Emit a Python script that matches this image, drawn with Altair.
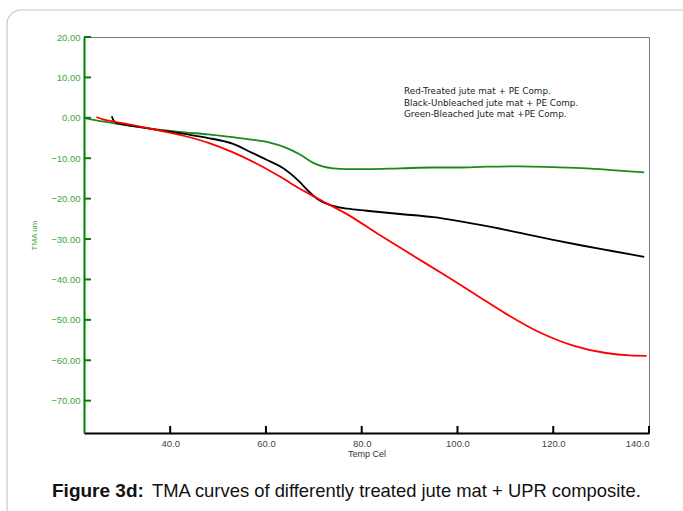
import altair as alt
import pandas as pd

# ---- data ----
green_t = [22, 24, 28, 33, 38, 43, 48, 53, 57, 61, 64, 67, 70, 72, 74, 77, 81, 88, 95, 100, 106, 113, 120, 127, 133, 139]
green_v = [0, -0.5, -1.3, -2.2, -3.0, -3.6, -4.1, -4.8, -5.4, -6.2, -7.3, -9.0, -11.2, -12.1, -12.5, -12.7, -12.7,
           -12.5, -12.3, -12.3, -12.1, -12.0, -12.2, -12.5, -13.0, -13.5]

black_t = [27.8, 28.1, 28.6, 30, 33, 38, 43, 48, 53, 57, 60, 64, 67, 69, 71, 74, 77, 81, 88, 95, 100, 107, 114,
           120, 126, 132, 139]
black_v = [0.4, -0.5, -1.2, -1.6, -2.2, -3.1, -4.0, -5.0, -6.4, -8.6, -10.3, -12.8, -15.8, -18.3, -20.3, -21.8,
           -22.5, -23.0, -23.8, -24.6, -25.5, -27.0, -28.7, -30.2, -31.6, -32.9, -34.4]

red_t = [24.6, 26, 29, 33, 38, 43, 48, 53, 58, 63, 67, 71, 77, 84, 91, 98, 104, 110, 117, 124, 131, 136, 139.5]
red_v = [0.2, -0.4, -1.1, -2.0, -3.2, -4.5, -6.2, -8.5, -11.3, -14.6, -17.5, -20.1, -23.9, -29.2, -34.3, -39.4,
         -43.9, -48.4, -53.0, -56.3, -58.2, -58.8, -58.9]

x_ticks = [40, 60, 80, 100, 120, 140]
y_ticks = [20, 10, 0, -10, -20, -30, -40, -50, -60, -70]

legend_lines = ["Red-Treated jute mat + PE Comp.",
                "Black-Unbleached jute mat + PE Comp.",
                "Green-Bleached Jute mat +PE Comp."]
caption_bold = "Figure 3d:"
caption_text = "TMA curves of differently treated jute mat + UPR composite."

W, H = 565, 396
AX_GREEN = "#008000"
LBL_GREEN = "#3fa53f"

rows = []
for name, ts, vs in [("green", green_t, green_v), ("black", black_t, black_v), ("red", red_t, red_v)]:
    for i, (t, v) in enumerate(zip(ts, vs)):
        rows.append({"series": name, "t": t, "v": v, "i": i})
df = pd.DataFrame(rows)

xscale = alt.Scale(domain=[22, 140], nice=False, zero=False)
yscale = alt.Scale(domain=[-78, 20], nice=False, zero=False)

xaxis = alt.Axis(values=x_ticks, format=".1f", ticks=False, grid=False, domainColor="black", domainWidth=2,
                 labelFont="Liberation Sans", labelFontSize=9.5, labelColor="#444", labelPadding=5,
                 title="Temp Cel", titleFont="Liberation Sans", titleFontSize=9, titleFontWeight="normal",
                 titleColor="#333", titlePadding=2)
yaxis = alt.Axis(values=y_ticks, format=".2f", ticks=False, grid=False, domainColor=AX_GREEN, domainWidth=2,
                 labelFont="Liberation Sans", labelFontSize=9.5, labelColor=LBL_GREEN, labelPadding=4,
                 title="TMA um", titleFont="Liberation Sans", titleFontSize=8, titleFontWeight="normal",
                 titleColor=LBL_GREEN, titlePadding=12)

frame = alt.Chart(pd.DataFrame({"a": [0]})).mark_rect(
    fill=None, stroke="#c8c8c8", strokeWidth=1.2, cornerRadius=14
).encode(x=alt.value(-77), x2=alt.value(W + 60), y=alt.value(-27), y2=alt.value(H + 90))

lines = alt.Chart(df).mark_line(strokeWidth=1.8, interpolate="monotone").encode(
    x=alt.X("t:Q", scale=xscale, axis=xaxis),
    y=alt.Y("v:Q", scale=yscale, axis=yaxis),
    color=alt.Color("series:N", scale=alt.Scale(domain=["green", "black", "red"],
                                               range=["#1a8a1a", "#000000", "#ff0000"]), legend=None),
    order="i:Q",
    detail="series:N",
)

yt = alt.Chart(pd.DataFrame({"v": y_ticks})).mark_rule(color=AX_GREEN, strokeWidth=2).encode(
    y=alt.Y("v:Q", scale=yscale), x=alt.value(0), x2=alt.value(7))
xt = alt.Chart(pd.DataFrame({"t": x_ticks})).mark_rule(color="black", strokeWidth=2).encode(
    x=alt.X("t:Q", scale=xscale), y=alt.value(H), y2=alt.value(H - 7))

legend = alt.Chart(pd.DataFrame({"a": [0]})).mark_text(
    align="left", baseline="top", font="DejaVu Sans", fontSize=8.8, color="#222", lineHeight=11.5
).encode(x=alt.value(320), y=alt.value(50), text=alt.value(legend_lines))

cap1 = alt.Chart(pd.DataFrame({"a": [0]})).mark_text(
    align="left", baseline="middle", font="Liberation Sans", fontSize=19, fontWeight="bold", color="#111"
).encode(x=alt.value(-32), y=alt.value(454), text=alt.value(caption_bold))
cap2 = alt.Chart(pd.DataFrame({"a": [0]})).mark_text(
    align="left", baseline="middle", font="Liberation Sans", fontSize=18.4, color="#111"
).encode(x=alt.value(68), y=alt.value(454), text=alt.value(caption_text))

chart = alt.layer(frame, lines, yt, xt, legend, cap1, cap2).properties(
    width=W, height=H,
    autosize=alt.AutoSizeParams(type="none"),
    padding={"left": 84, "top": 37, "right": 34, "bottom": 78},
    background="white",
).configure_view(stroke="#777", strokeWidth=1)

chart.save("out.html", embed_options={"renderer": "svg", "actions": False})
